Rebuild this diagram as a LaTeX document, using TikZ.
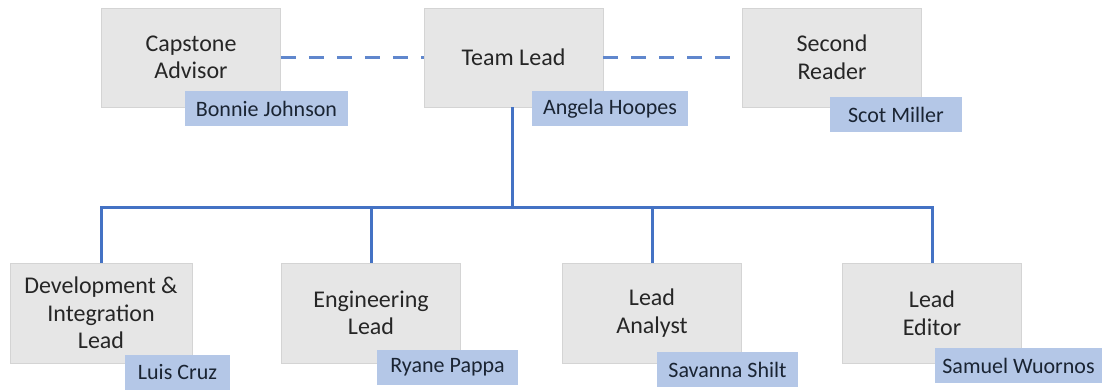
\documentclass[tikz,border=0pt]{standalone}
\usepackage{fontspec}
\setmainfont{Carlito}
\definecolor{boxfill}{HTML}{E6E6E6}
\definecolor{boxedge}{HTML}{D4D4D4}
\definecolor{tagfill}{HTML}{B4C7E7}
\definecolor{linkblue}{HTML}{4472C4}
\definecolor{roletext}{HTML}{262626}
\definecolor{nametext}{HTML}{1A2433}
\begin{document}
\begin{tikzpicture}[x=1pt,y=-1pt,
  rolebox/.style={draw=boxedge,line width=0.8pt,fill=boxfill,rectangle,
    minimum width=179pt,minimum height=99pt,align=center,text=roletext,
    font=\fontsize{24}{27.5}\selectfont,inner sep=2pt},
  nametag/.style={fill=tagfill,rectangle,minimum height=35pt,inner sep=2pt,
    text=nametext,font=\fontsize{22}{24}\selectfont},
  tree/.style={draw=linkblue,line width=3pt},
  peer/.style={draw=linkblue!85,line width=3pt,dash pattern=on 15pt off 13pt}]
\useasboundingbox (0,0) rectangle (1109,389);

% top row
\node[rolebox] (adv)  at (191,57.5)   {Capstone\\Advisor};
\node[rolebox] (lead) at (513.5,57.5) {Team Lead};
\node[rolebox] (rdr)  at (832,57.5)   {Second\\Reader};

% bottom row
\node[rolebox,minimum width=182pt,minimum height=100pt] (dev) at (101,313) {Development \&\\Integration\\Lead};
\node[rolebox,minimum height=100pt] (eng) at (371,313) {Engineering\\Lead};
\node[rolebox,minimum height=100pt] (ana) at (652,313) {Lead\\Analyst};
\node[rolebox,minimum height=100pt] (edt) at (932,313) {Lead\\Editor};

% reporting lines
\coordinate (bus) at (512,207);
\draw[tree] (lead.south -| bus) -- (bus);
\draw[tree] (dev.north) |- (bus) -| (edt.north);
\draw[tree] (eng.north) -- (eng.north |- bus);
\draw[tree] (ana.north) -- (ana.north |- bus);

% advisory links
\draw[peer] (adv.east) -- (lead.west);
\draw[peer] (lead.east) -- (rdr.west);

% name tags
\node[nametag,minimum width=163pt] (tadv)  at (266.5,108.5) {Bonnie Johnson};
\node[nametag,minimum width=156pt] (tlead) at (610,108.5)   {Angela Hoopes};
\node[nametag,minimum width=132pt] (trdr)  at (896,114.5)   {Scot Miller};
\node[nametag,minimum width=105pt] (tdev)  at (177.5,372.5) {Luis Cruz};
\node[nametag,minimum width=141pt] (teng)  at (447.5,367.5) {Ryane Pappa};
\node[nametag,minimum width=141pt] (tana)  at (727.5,369.5) {Savanna Shilt};
\node[nametag,minimum width=167pt] (tedt)  at (1018.5,365.5) {Samuel Wuornos};
\end{tikzpicture}
\end{document}
